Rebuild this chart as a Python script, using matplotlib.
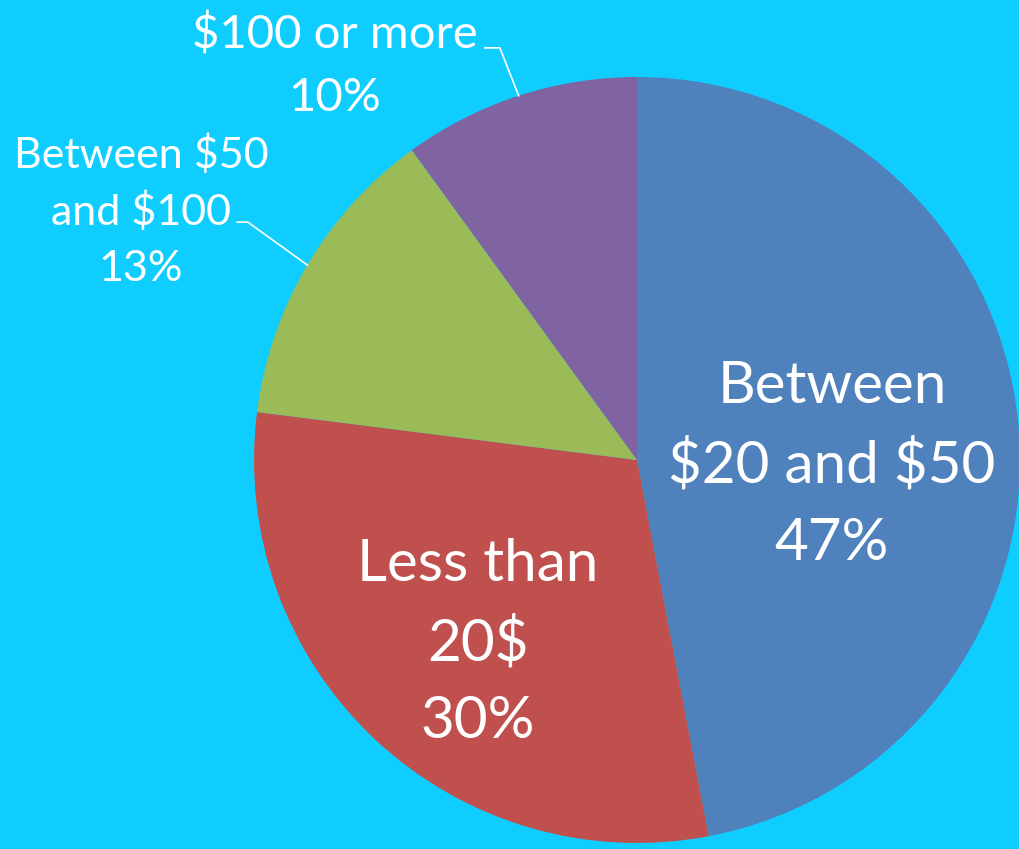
import numpy as np
import matplotlib.pyplot as plt

# pie data, clockwise from 12 o'clock
labels = ["Between\n$20 and $50", "Less than\n20$", "Between $50\nand $100", "$100 or more"]
shares = [47, 30, 13, 10]
colors = ["#4F81BD", "#C0504D", "#9BBB59", "#8064A2"]

bg = "#0FCEFF"
plt.rcParams["font.family"] = ["Lato", "DejaVu Sans"]

fig = plt.figure(figsize=(10.19, 8.49), dpi=100, facecolor=bg)
R = 383.0
cx, cy = 637.0, 460.0
W, H = 1019.0, 849.0
ax = fig.add_axes([(cx - R) / W, (H - cy - R) / H, 2 * R / W, 2 * R / H])
ax.set_facecolor(bg)

wedges, _ = ax.pie(shares, colors=colors, startangle=90, counterclock=False,
                   radius=1.0, wedgeprops=dict(linewidth=0))
ax.set_xlim(-1, 1)
ax.set_ylim(-1, 1)
ax.set_aspect("equal")
ax.axis("off")


def put_label(x, y, text, size, pitch):
    lines = text.split("\n")
    n = len(lines)
    for i, ln in enumerate(lines):
        ax.text(x, y + (n - 1) / 2 * pitch - i * pitch, ln, ha="center", va="center",
                color="white", fontsize=size, clip_on=False, parse_math=False)


# inside labels (big)
put_label(0.509, -0.013, labels[0] + "\n%d%%" % shares[0], 42, 0.204)
put_label(-0.415, -0.478, labels[1] + "\n%d%%" % shares[1], 42, 0.204)

# outside labels (small) with leader lines
put_label(-1.295, 0.648, labels[2] + "\n%d%%" % shares[2], 31, 0.149)
put_label(-0.789, 1.029, labels[3] + "\n%d%%" % shares[3], 34, 0.166)

for w, knee, end in [(wedges[2], (-1.016, 0.621), -1.044), (wedges[3], (-0.358, 1.076), -0.397)]:
    mid = np.deg2rad((w.theta1 + w.theta2) / 2)
    x0, y0 = np.cos(mid), np.sin(mid)
    ax.plot([x0, knee[0], end], [y0, knee[1], knee[1]], color="white", lw=1.2, clip_on=False)

fig.savefig("out.png", dpi=100, facecolor=bg)
